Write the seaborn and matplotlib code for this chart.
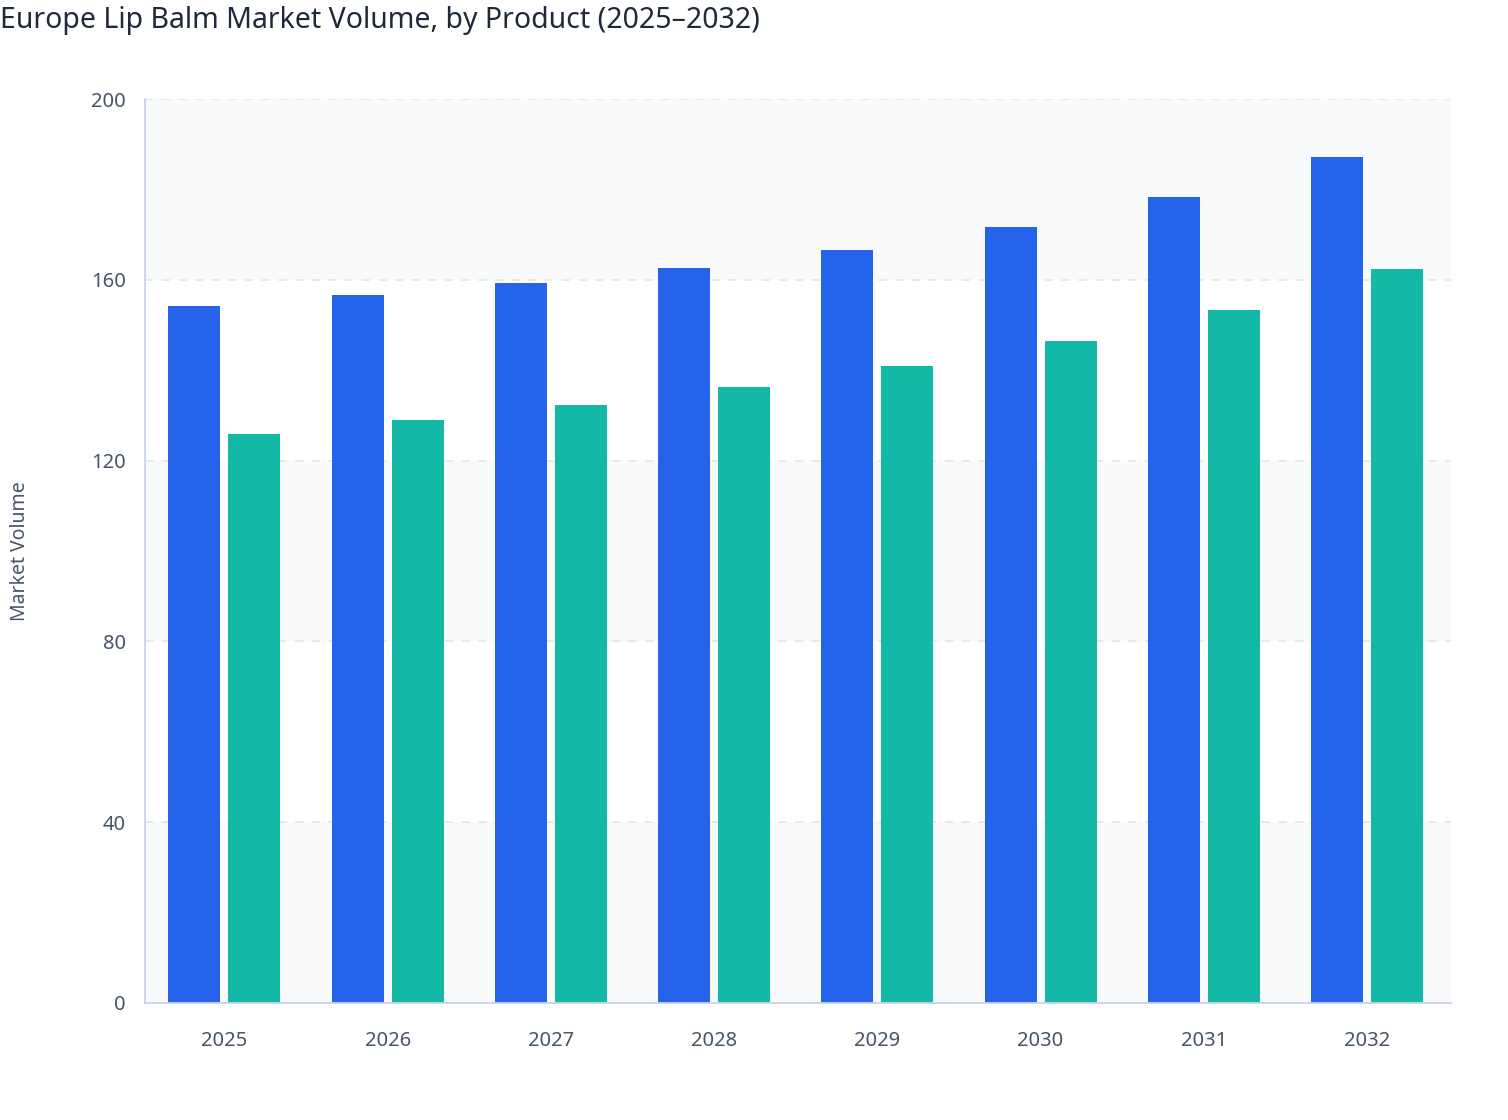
import pandas as pd
import matplotlib.pyplot as plt
import seaborn as sns

# data
years = ["2025", "2026", "2027", "2028", "2029", "2030", "2031", "2032"]
product_a = [154.3, 156.6, 159.3, 162.6, 166.6, 171.7, 178.4, 187.2]
product_b = [126.0, 128.9, 132.4, 136.4, 140.9, 146.5, 153.4, 162.5]
series_names = ["Product A", "Product B"]
y_ticks = [0, 40, 80, 120, 160, 200]

df = pd.DataFrame({
    "Year": years * 2,
    "Volume": product_a + product_b,
    "Product": [series_names[0]] * len(years) + [series_names[1]] * len(years),
})

sns.set_style("white")
plt.rcParams["font.family"] = ["Noto Sans", "DejaVu Sans"]

fig = plt.figure(figsize=(15.08, 11.2), dpi=100)
ax = fig.add_axes([0.0962, 0.1045, 0.866, 0.807])

# alternating background bands
for i in range(0, len(y_ticks) - 1, 2):
    ax.axhspan(y_ticks[i], y_ticks[i + 1], color="#f8fafc", zorder=0, lw=0)
for t in y_ticks[1:]:
    ax.axhline(t, color="#e2e5ea", lw=1.2, ls=(0, (5, 5)), zorder=0.5)

sns.barplot(data=df, x="Year", y="Volume", hue="Product",
            palette=["#2563eb", "#14b8a6"], width=0.734, gap=0.133,
            saturation=1, linewidth=0, legend=False, ax=ax, zorder=2)

ax.set_xlim(-0.486, len(years) - 0.486)
ax.set_ylim(0, 200)
ax.set_yticks(y_ticks)
ax.set_xlabel("")
ax.set_ylabel("Market Volume", fontsize=14, color="#475569")
ax.yaxis.set_label_coords(-0.088, 0.5)

for s in ["top", "right"]:
    ax.spines[s].set_visible(False)
for s in ["left", "bottom"]:
    ax.spines[s].set_color("#c9d3ef")
    ax.spines[s].set_linewidth(1.3)

ax.tick_params(axis="both", colors="#c9d3ef", length=10, width=1.3,
               labelsize=14.5, labelcolor="#475569")
ax.tick_params(axis="y", pad=4)
ax.tick_params(axis="x", pad=12, length=8)

fig.text(0.0, 0.982, "Europe Lip Balm Market Volume, by Product (2025\u20132032)",
         fontsize=20.5, color="#1e293b", ha="left", va="center", fontweight="semibold")

fig.savefig("out.png", dpi=100, facecolor="white")
